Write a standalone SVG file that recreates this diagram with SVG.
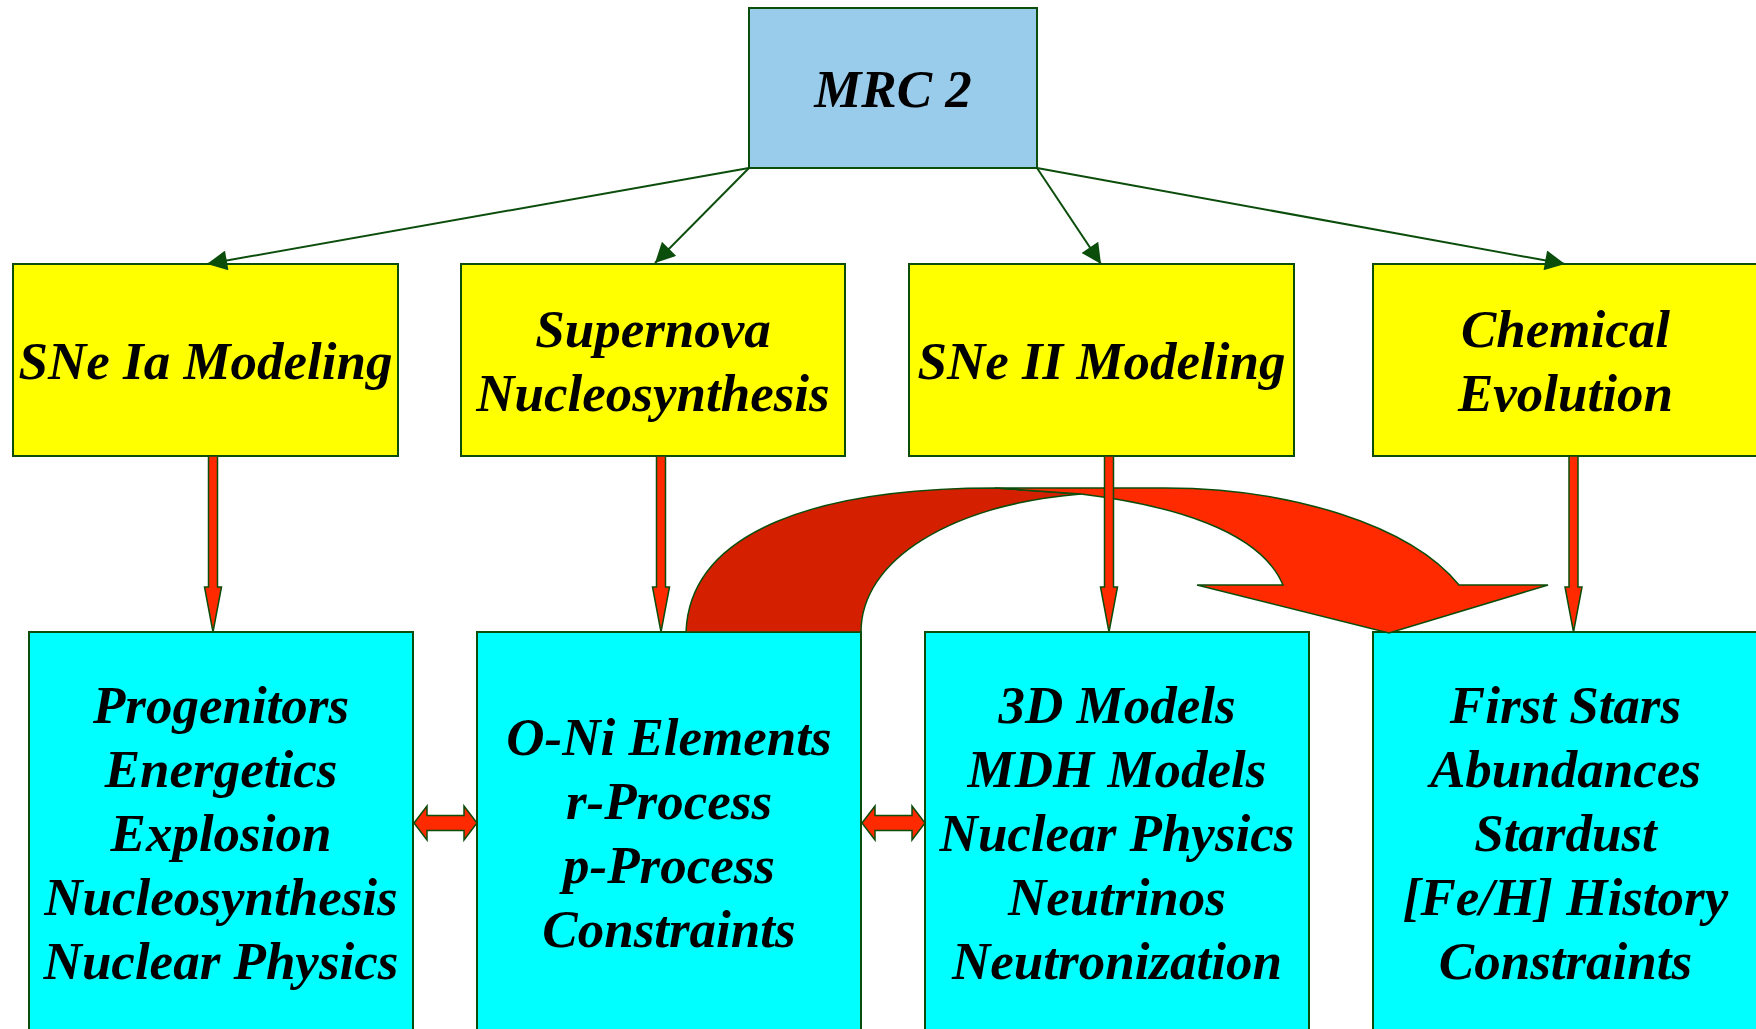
<svg xmlns="http://www.w3.org/2000/svg" width="1756" height="1029" viewBox="0 0 1756 1029">
<defs>
<style>
.box{stroke:#0b4d0b;stroke-width:2}
.top{fill:#99cbeb}
.mid{fill:#ffff00}
.bot{fill:#00ffff}
.t{font-family:"Liberation Serif","Times New Roman",serif;font-weight:bold;font-style:italic;font-size:53px;fill:#000;text-anchor:middle}
.gl{stroke:#0b4d0b;stroke-width:2;fill:none;marker-end:url(#ah)}
.ra{fill:#ff2a00;stroke:#0b4d0b;stroke-width:1.5;stroke-linejoin:miter}
.rd{fill:#d42000;stroke:#0b4d0b;stroke-width:1.5}
</style>
<marker id="ah" viewBox="0 0 10 10" refX="10" refY="5" markerWidth="22" markerHeight="20" markerUnits="userSpaceOnUse" orient="auto">
<path d="M0,0 L10,5 L0,10 Z" fill="#0b4d0b"/>
</marker>
</defs>
<rect width="1756" height="1029" fill="#fff"/>

<g id="mrc2">
<rect class="box top" x="749" y="8" width="288" height="160"/>
<text class="t" x="893" y="107">MRC 2</text>
</g>

<g id="snia">
<rect class="box mid" x="13" y="264" width="385" height="192"/>
<text class="t" x="205.5" y="379">SNe Ia Modeling</text>
</g>
<g id="snnuc">
<rect class="box mid" x="461" y="264" width="384" height="192"/>
<text class="t" x="653" y="347">Supernova</text>
<text class="t" x="653" y="411">Nucleosynthesis</text>
</g>
<g id="snii">
<rect class="box mid" x="909" y="264" width="385" height="192"/>
<text class="t" x="1101.5" y="379">SNe II Modeling</text>
</g>
<g id="chem">
<rect class="box mid" x="1373" y="264" width="385" height="192"/>
<text class="t" x="1565.5" y="347">Chemical</text>
<text class="t" x="1565.5" y="411">Evolution</text>
</g>

<g id="ia_topics">
<rect class="box bot" x="29" y="632" width="384" height="410"/>
<text class="t" x="221" y="723">Progenitors</text>
<text class="t" x="221" y="787">Energetics</text>
<text class="t" x="221" y="851">Explosion</text>
<text class="t" x="221" y="915">Nucleosynthesis</text>
<text class="t" x="221" y="979">Nuclear Physics</text>
</g>
<g id="nuc_topics">
<rect class="box bot" x="477" y="632" width="384" height="410"/>
<text class="t" x="669" y="755">O-Ni Elements</text>
<text class="t" x="669" y="819">r-Process</text>
<text class="t" x="669" y="883">p-Process</text>
<text class="t" x="669" y="947">Constraints</text>
</g>
<g id="ii_topics">
<rect class="box bot" x="925" y="632" width="384" height="410"/>
<text class="t" x="1117" y="723">3D Models</text>
<text class="t" x="1117" y="787">MDH Models</text>
<text class="t" x="1117" y="851">Nuclear Physics</text>
<text class="t" x="1117" y="915">Neutrinos</text>
<text class="t" x="1117" y="979">Neutronization</text>
</g>
<g id="chem_topics">
<rect class="box bot" x="1373" y="632" width="385" height="410"/>
<text class="t" x="1565.5" y="723">First Stars</text>
<text class="t" x="1565.5" y="787">Abundances</text>
<text class="t" x="1565.5" y="851">Stardust</text>
<text class="t" x="1565.5" y="915">[Fe/H] History</text>
<text class="t" x="1565.5" y="979">Constraints</text>
</g>

<g id="connectors">
<line class="gl" x1="749" y1="168" x2="207" y2="264"/>
<line class="gl" x1="749" y1="168" x2="655" y2="263"/>
<line class="gl" x1="1037" y1="168" x2="1101" y2="264"/>
<line class="gl" x1="1037" y1="168" x2="1565" y2="264"/>

<path class="rd" d="M686,632 C690,530 820,488 995,488 L1081,494 C950,505 861,560 861,632 Z"/>
<path class="ra" d="M995,488 L1165,488 C1290,488 1410,525 1459,585 L1548,585 L1389,633 L1197,585 L1283,585 C1260,530 1170,505 1081,494 Z"/>

<polygon class="ra" points="208.5,456 217.5,456 217.5,587 221.5,587 213,632 204.5,587 208.5,587"/>
<polygon class="ra" points="656.5,456 665.5,456 665.5,587 669.5,587 661,632 652.5,587 656.5,587"/>
<polygon class="ra" points="1104.5,456 1113.5,456 1113.5,587 1117.5,587 1109,632 1100.5,587 1104.5,587"/>
<polygon class="ra" points="1569,456 1578,456 1578,587 1582,587 1573.5,632 1565,587 1569,587"/>

<polygon class="ra" points="414,823 427,806 427,815.5 464,815.5 464,806 477,823 464,840 464,830.5 427,830.5 427,840"/>
<polygon class="ra" points="862,823 875,806 875,815.5 912,815.5 912,806 925,823 912,840 912,830.5 875,830.5 875,840"/>
</g>
</svg>
